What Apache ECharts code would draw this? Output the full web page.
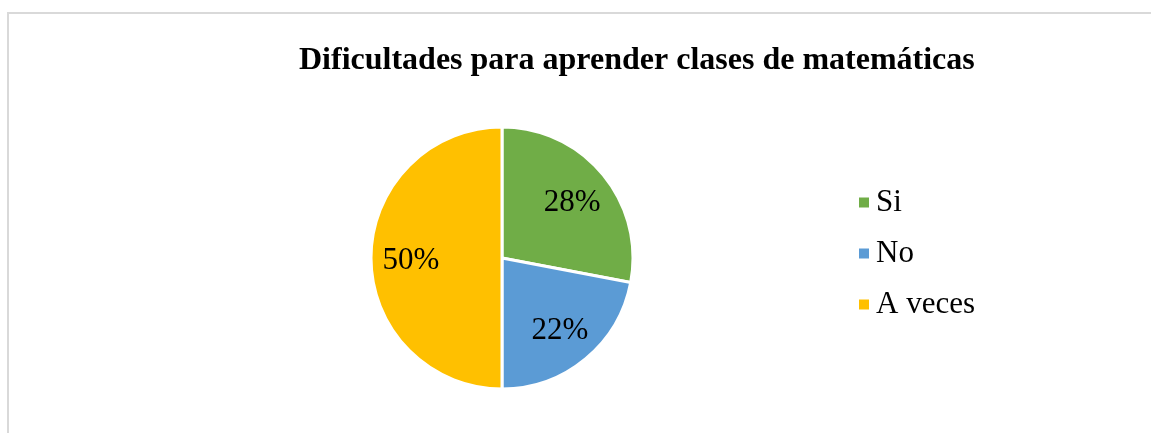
<!DOCTYPE html>
<html>
<head>
<meta charset="utf-8">
<script src="https://cdn.jsdelivr.net/npm/echarts@6/dist/echarts.min.js"></script>
<style>
html,body{margin:0;padding:0;background:#fff;}
#chart{width:1151px;height:433px;}
</style>
</head>
<body>
<div id="chart"></div>
<script>
const titleText = 'Dificultades para aprender clases de matemáticas';
const categories = ['Si', 'No', 'A veces'];
const values = [28, 22, 50];
const colors = ['#70AD47', '#5B9BD5', '#FFC000'];

const font = '"Liberation Serif", "Times New Roman", serif';
const data = categories.map((c, i) => ({ name: c, value: values[i], itemStyle: { color: colors[i] } }));

const chart = echarts.init(document.getElementById('chart'), null, { renderer: 'canvas' });
chart.setOption({
  animation: false,
  backgroundColor: '#ffffff',
  graphic: [{
    type: 'rect',
    shape: { x: 8, y: 13, width: 1300, height: 600 },
    style: { fill: 'none', stroke: '#d9d9d9', lineWidth: 2 },
    silent: true
  }],
  title: {
    text: titleText,
    left: 294,
    top: 40,
    textStyle: { fontFamily: font, fontWeight: 'bold', fontSize: 32, color: '#000' }
  },
  legend: {
    orient: 'vertical',
    left: 854,
    top: 182,
    itemWidth: 10,
    itemHeight: 10,
    itemGap: 20,
    icon: 'rect',
    itemStyle: { borderWidth: 0, borderColor: 'transparent' },
    data: categories,
    textStyle: { fontFamily: font, fontSize: 31, color: '#000', lineHeight: 31, padding: [0, 0, 0, 2] }
  },
  series: [{
    type: 'pie',
    center: [502, 258],
    radius: 131,
    startAngle: 90,
    clockwise: true,
    data: data,
    label: { show: false },
    labelLine: { show: false },
    itemStyle: { borderColor: '#fff', borderWidth: 3 }
  }, {
    type: 'pie',
    center: [502, 261],
    radius: 176,
    startAngle: 90,
    clockwise: true,
    silent: true,
    legendHoverLink: false,
    data: categories.map((c, i) => ({ name: c, value: values[i] })),
    itemStyle: { color: 'rgba(0,0,0,0)' },
    labelLine: { show: false },
    label: {
      show: true,
      position: 'inside',
      formatter: '{c}%',
      fontFamily: font,
      fontSize: 31,
      color: '#000'
    },
    emphasis: { disabled: true }
  }]
});
</script>
</body>
</html>
